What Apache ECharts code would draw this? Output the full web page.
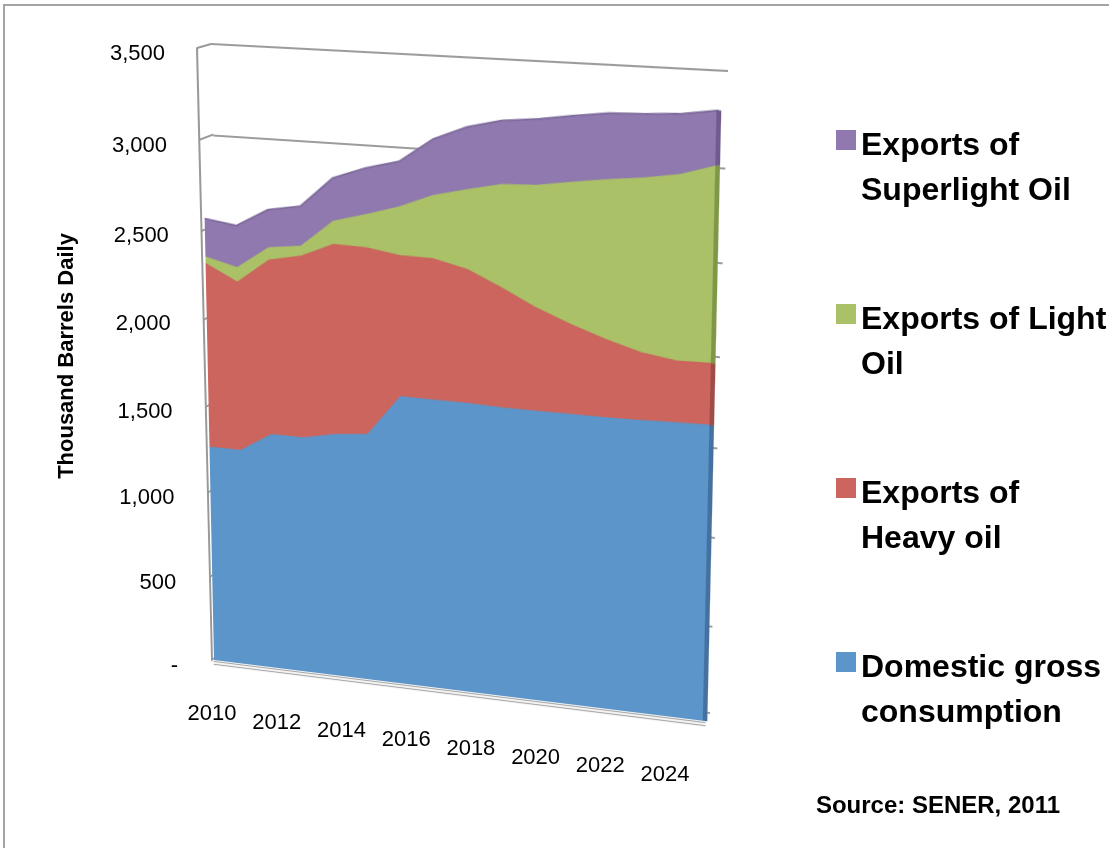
<!DOCTYPE html>
<html>
<head>
<meta charset="utf-8">
<script src="https://cdn.jsdelivr.net/npm/echarts@6/dist/echarts.min.js"></script>
<style>
  html, body { margin: 0; padding: 0; background: #fff; width: 1109px; height: 848px; overflow: hidden; }
  body { position: relative; }
  .layer { position: absolute; left: 0; top: 0; transform-origin: 0 0; }
  #frame { position: absolute; left: 3px; top: 4px; width: 1200px; height: 900px;
           border-left: 2px solid #a3a3a3; border-top: 2px solid #a3a3a3; }
</style>
</head>
<body>
<div id="frame"></div>
<div id="sideWall" class="layer" style="width:40px;height:640px"></div>
<div id="backWall" class="layer" style="width:600px;height:700px"></div>
<div id="front" class="layer" style="width:620px;height:640px"></div>
<div id="overlay" class="layer" style="width:1109px;height:848px"></div>
<script>
// Mexico crude oil balance, thousand barrels daily
const years = ['2010','2011','2012','2013','2014','2015','2016','2017',
               '2018','2019','2020','2021','2022','2023','2024','2025'];
const domesticGross     = [1260,1257,1365,1362,1397,1413,1640,1636,1633,1624,1620,1618,1615,1616,1619,1620];
const heavyExports      = [1050, 959, 985,1021,1061,1037, 778, 775, 731, 653, 561, 486, 421, 363, 329, 329];
const lightExports      = [  37,  81,  69,  55, 127, 181, 264, 341, 428, 551, 651, 753, 843, 917, 974,1027];
const superlightExports = [ 215, 235, 211, 220, 236, 252, 245, 301, 333, 337, 347, 346, 344, 330, 311, 280];

const valueTicks = [0, 500, 1000, 1500, 2000, 2500, 3000, 3500];

const seriesNames = ['Domestic gross\nconsumption', 'Exports of\nHeavy oil',
                     'Exports of Light\nOil', 'Exports of\nSuperlight Oil'];
const seriesColors = ['#5c95c9', '#cb655d', '#aac167', '#8f79ae'];
const endColors    = ['#44719f', '#a04c47', '#7f9848', '#6f5b8d'];
const seriesValues = [domesticGross, heavyExports, lightExports, superlightExports];

const FONT = "'Liberation Sans', Arial, sans-serif";
const GRID_GRAY = '#8e8e8e';
const VMAX = 3500;

// Unit square -> quadrilateral (corners: top-left, top-right, bottom-right, bottom-left)
function squareToQuad(quad) {
  const [[x0, y0], [x1, y1], [x2, y2], [x3, y3]] = quad;
  const dx1 = x1 - x2, dx2 = x3 - x2, dx3 = x0 - x1 + x2 - x3;
  const dy1 = y1 - y2, dy2 = y3 - y2, dy3 = y0 - y1 + y2 - y3;
  const den = dx1 * dy2 - dx2 * dy1;
  const g = (dx3 * dy2 - dx2 * dy3) / den;
  const k = (dx1 * dy3 - dx3 * dy1) / den;
  return [
    [x1 - x0 + g * x1, x3 - x0 + k * x3, x0],
    [y1 - y0 + g * y1, y3 - y0 + k * y3, y0],
    [g, k, 1]
  ];
}

function project(S, u, v) {
  const w = S[2][0] * u + S[2][1] * v + S[2][2];
  return [(S[0][0] * u + S[0][1] * v + S[0][2]) / w, (S[1][0] * u + S[1][1] * v + S[1][2]) / w];
}

// CSS matrix3d placing a chart's grid rectangle onto the quad
function quadTransform(quad, rect) {
  const S = squareToQuad(quad);
  const H = S.map(r => [r[0] / rect.w, r[1] / rect.h, r[2] - r[0] * rect.x / rect.w - r[1] * rect.y / rect.h]);
  return 'matrix3d(' + [
    H[0][0], H[1][0], 0, H[2][0],
    H[0][1], H[1][1], 0, H[2][1],
    0, 0, 1, 0,
    H[0][2], H[1][2], 0, H[2][2]
  ].join(',') + ')';
}

function place(id, quad, rect) {
  document.getElementById(id).style.transform = quadTransform(quad, rect);
}

// Planes of the 3-D box
const sideQuad  = [[197, 48], [211, 44], [225, 648], [212, 660]];
const backQuad  = [[211, 44], [728, 71], [710, 713], [225, 648]];
const frontQuad = [[201, 48], [720, 62], [705, 721], [214, 660]];

const sideRect  = { x: 10,  y: 10, w: 14,  h: 610 };
const backRect  = { x: 10,  y: 10, w: 500, h: 640 };
const frontRect = { x: 120, y: 10, w: 470, h: 610 };

const valueAxisBase = { type: 'value', min: 0, max: VMAX, interval: 500 };

// Left side wall: front edge line and its gridlines
const side = echarts.init(document.getElementById('sideWall'), null, { devicePixelRatio: 2 });
side.setOption({
  animation: false,
  grid: { left: sideRect.x, top: sideRect.y, width: sideRect.w, height: sideRect.h, outerBoundsMode: 'none' },
  xAxis: { type: 'value', min: 0, max: 1, show: false },
  yAxis: Object.assign({}, valueAxisBase, {
    axisLine: { show: true, onZero: false, lineStyle: { color: GRID_GRAY, width: 1.8 } },
    axisTick: { show: false },
    axisLabel: { show: false },
    splitLine: { show: true, lineStyle: { color: GRID_GRAY, width: 1.8 } }
  }),
  series: []
});
place('sideWall', sideQuad, sideRect);

// Back wall gridlines
const back = echarts.init(document.getElementById('backWall'), null, { devicePixelRatio: 2 });
back.setOption({
  animation: false,
  grid: { left: backRect.x, top: backRect.y, width: backRect.w, height: backRect.h, outerBoundsMode: 'none' },
  xAxis: { type: 'value', min: 0, max: 1, show: false },
  yAxis: Object.assign({}, valueAxisBase, {
    axisLine: { show: false },
    axisTick: { show: false },
    axisLabel: { show: false },
    splitLine: { show: true, lineStyle: { color: GRID_GRAY, width: 1.8 } }
  }),
  series: []
});
place('backWall', backQuad, backRect);

// Front face: stacked areas with their end faces, and the floor edge
const floorAxis = offset => ({
  type: 'category', data: years, boundaryGap: false, position: 'bottom', offset: offset,
  axisLine: { show: true, onZero: false, lineStyle: { color: '#a6a6a6', width: 1.3 } },
  axisTick: { show: false }, axisLabel: { show: false }, splitLine: { show: false }
});

const lastIdx = years.length - 1;
let runningBase = 0;
const frontSeries = seriesValues.map((vals, i) => {
  const base = runningBase;
  const top = base + vals[lastIdx];
  runningBase = top;
  const isTop = i === seriesValues.length - 1;
  return {
    name: seriesNames[i],
    type: 'line',
    stack: 'total',
    data: vals,
    symbol: 'none',
    silent: true,
    itemStyle: { color: seriesColors[i] },
    lineStyle: { color: isTop ? '#7b679a' : seriesColors[i], width: isTop ? 1.6 : 1 },
    areaStyle: { color: seriesColors[i], opacity: 1 },
    markLine: {
      silent: true, symbol: ['none', 'none'], label: { show: false },
      lineStyle: { color: endColors[i], width: 4, type: 'solid' },
      data: [[{ coord: [lastIdx, base] }, { coord: [lastIdx, top] }]]
    }
  };
});

const front = echarts.init(document.getElementById('front'), null, { devicePixelRatio: 2 });
front.setOption({
  animation: false,
  grid: { left: frontRect.x, top: frontRect.y, width: frontRect.w, height: frontRect.h, outerBoundsMode: 'none' },
  xAxis: [floorAxis(1), floorAxis(4)],
  yAxis: Object.assign({}, valueAxisBase, {
    axisLine: { show: false }, axisTick: { show: false }, splitLine: { show: false }, axisLabel: { show: false }
  }),
  series: frontSeries
});
place('front', frontQuad, frontRect);

// Value labels follow the front-left edge of the box, kept upright
const frontS = squareToQuad(frontQuad);
const LABEL_DROP = 6;
const [edgeTopX, edgeTopY] = project(frontS, 0, 0);
const [edgeBotX, edgeBotY] = project(frontS, 0, 1);
const labelTop = edgeTopY + LABEL_DROP;
const labelBot = edgeBotY + LABEL_DROP;
const valueRich = {};
valueTicks.forEach((val, i) => {
  const v = 1 - val / VMAX;
  const [px, py] = project(frontS, 0, v);
  const linearY = labelBot - (val / VMAX) * (labelBot - labelTop);
  const r = (py + LABEL_DROP) - linearY;
  valueRich['t' + i] = {
    padding: [Math.max(2 * r, 0), Math.max(edgeBotX - px, 0), Math.max(-2 * r, 0), 0],
    fontSize: 22, fontFamily: FONT, color: '#000'
  };
});

// Category labels along the floor edge
const yearRich = {};
for (let k = 0; k < 8; k++) {
  yearRich['o' + k] = { padding: [k * 8.7, 0, 0, 0], fontSize: 22, fontFamily: FONT, color: '#000' };
}

// Legend entries: a spacer line keeps the swatch level with the first text line
const legendText = { fontSize: 32, fontWeight: 'bold', fontFamily: FONT, color: '#000' };
const legendRich = {
  g: Object.assign({ lineHeight: 57 }, legendText),
  t: Object.assign({ lineHeight: 45 }, legendText)
};

const overlay = echarts.init(document.getElementById('overlay'));
overlay.setOption({
  animation: false,
  title: {
    text: 'Source: SENER, 2011', right: 49, top: 794, padding: 0,
    textStyle: { fontSize: 24, fontWeight: 'bold', fontFamily: FONT, color: '#000' }
  },
  legend: {
    orient: 'vertical', left: 836, top: 66.5, padding: 0, itemGap: 27,
    itemWidth: 20, itemHeight: 20, icon: 'rect',
    itemStyle: { borderWidth: 0 },
    data: seriesNames.slice().reverse(),
    formatter: name => '{g|}\n' + name.split('\n').map(s => '{t|' + s + '}').join('\n'),
    textStyle: Object.assign({ lineHeight: 45, rich: legendRich }, legendText)
  },
  grid: [
    { left: 212, top: 22, width: 485.4, height: 668, outerBoundsMode: 'none' },
    { left: edgeBotX, top: labelTop, width: 400, height: labelBot - labelTop, outerBoundsMode: 'none' }
  ],
  xAxis: [{
    type: 'category', data: years, boundaryGap: false,
    axisLine: { show: false }, axisTick: { show: false }, splitLine: { show: false },
    axisLabel: {
      interval: 1, margin: 13, color: '#000', fontSize: 22, fontFamily: FONT,
      formatter: (val, idx) => '{o' + (idx / 2) + '|' + val + '}',
      rich: yearRich
    }
  }, {
    type: 'value', gridIndex: 1, show: false, min: 0, max: 1
  }],
  yAxis: [{
    type: 'value', min: 0, max: 1,
    axisLine: { show: false }, axisTick: { show: false }, axisLabel: { show: false }, splitLine: { show: false },
    name: 'Thousand Barrels Daily', nameLocation: 'middle', nameGap: 134, nameRotate: 90,
    nameTextStyle: { fontSize: 22, fontWeight: 'bold', fontFamily: FONT, color: '#000' }
  }, Object.assign({}, valueAxisBase, {
    gridIndex: 1,
    axisLine: { show: false }, axisTick: { show: false }, splitLine: { show: false },
    axisLabel: {
      margin: 36, color: '#000', fontSize: 22, fontFamily: FONT,
      formatter: (v, idx) => '{t' + idx + '|' + (v === 0 ? '-' : v.toLocaleString('en-US')) + '}',
      rich: valueRich
    }
  })],
  series: seriesNames.map((n, i) => ({
    name: n, type: 'line', data: [],
    itemStyle: { color: seriesColors[i] }, lineStyle: { color: seriesColors[i] }
  }))
});
</script>
</body>
</html>
